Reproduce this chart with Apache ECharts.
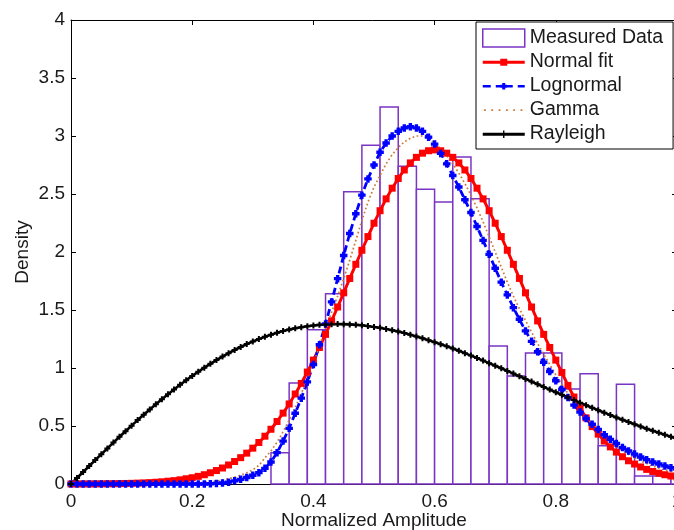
<!DOCTYPE html>
<html><head><meta charset="utf-8">
<script src="https://cdn.jsdelivr.net/npm/echarts@6/dist/echarts.min.js"></script>
<style>html,body{margin:0;padding:0;background:#fff}#c{width:674px;height:530px}</style>
</head><body><div id="c"></div>
<script>
// sample positions of the fitted curves
const xs = [0,0.01,0.02,0.03,0.04,0.05,0.06,0.07,0.08,0.09,
0.10,0.11,0.12,0.13,0.14,0.15,0.16,0.17,0.18,0.19,
0.20,0.21,0.22,0.23,0.24,0.25,0.26,0.27,0.28,0.29,
0.30,0.31,0.32,0.33,0.34,0.35,0.36,0.37,0.38,0.39,
0.40,0.41,0.42,0.43,0.44,0.45,0.46,0.47,0.48,0.49,
0.50,0.51,0.52,0.53,0.54,0.55,0.56,0.57,0.58,0.59,
0.60,0.61,0.62,0.63,0.64,0.65,0.66,0.67,0.68,0.69,
0.70,0.71,0.72,0.73,0.74,0.75,0.76,0.77,0.78,0.79,
0.80,0.81,0.82,0.83,0.84,0.85,0.86,0.87,0.88,0.89,
0.90,0.91,0.92,0.93,0.94,0.95,0.96,0.97,0.98,0.99,1.00];

const normalFit = [0.0004,0.0005,0.0007,0.0009,0.0012,0.0016,0.0021,0.0027,0.0035,0.0046,
0.0058,0.0075,0.0095,0.012,0.015,0.019,0.024,0.029,0.036,0.045,
0.054,0.066,0.080,0.097,0.116,0.138,0.164,0.194,0.227,0.266,
0.309,0.358,0.412,0.472,0.539,0.611,0.690,0.776,0.867,0.965,
1.068,1.177,1.290,1.406,1.526,1.648,1.772,1.894,2.015,2.133,
2.248,2.356,2.458,2.550,2.634,2.707,2.768,2.816,2.852,2.873,
2.880,2.873,2.852,2.816,2.768,2.707,2.634,2.550,2.458,2.356,
2.248,2.133,2.015,1.894,1.772,1.648,1.526,1.406,1.290,1.177,
1.068,0.962,0.850,0.750,0.655,0.570,0.495,0.430,0.370,0.320,
0.275,0.235,0.200,0.172,0.147,0.126,0.108,0.093,0.080,0.069,0.060];

const lognormalFit = [0,0,0,0,0,0,0,0,0,0,
0,0,0,0,0,0,0,0,0,0,
0,0,0,0.002,0.005,0.009,0.016,0.027,0.040,0.056,
0.075,0.098,0.135,0.190,0.270,0.370,0.480,0.610,0.740,0.880,
1.030,1.200,1.380,1.570,1.770,1.970,2.160,2.330,2.490,2.630,
2.750,2.860,2.940,3.000,3.040,3.070,3.080,3.070,3.040,2.990,
2.930,2.850,2.760,2.660,2.560,2.450,2.340,2.220,2.100,1.980,
1.860,1.740,1.630,1.520,1.420,1.320,1.230,1.140,1.050,0.970,
0.890,0.815,0.745,0.680,0.620,0.565,0.515,0.470,0.425,0.385,
0.350,0.315,0.285,0.258,0.233,0.210,0.190,0.172,0.156,0.141,0.128];

const gammaFit = [0,0,0,0,0,0,0,0,0,0,
0,0,0,0,0,0.001,0.001,0.002,0.003,0.005,
0.007,0.010,0.014,0.019,0.026,0.034,0.045,0.059,0.076,0.097,
0.122,0.160,0.225,0.285,0.360,0.450,0.550,0.660,0.780,0.900,
1.040,1.190,1.340,1.480,1.620,1.770,1.930,2.100,2.270,2.430,
2.560,2.660,2.760,2.840,2.900,2.950,2.980,3.000,3.000,2.980,
2.940,2.890,2.830,2.760,2.680,2.590,2.490,2.380,2.260,2.130,
2.000,1.870,1.740,1.620,1.510,1.410,1.310,1.210,1.120,1.030,
0.940,0.860,0.780,0.710,0.640,0.575,0.515,0.460,0.410,0.365,
0.325,0.288,0.255,0.225,0.199,0.176,0.155,0.137,0.121,0.107,0.094];

const rayleighFit = [0,0.052,0.103,0.155,0.206,0.257,0.307,0.357,0.407,0.455,
0.503,0.551,0.597,0.643,0.687,0.731,0.774,0.815,0.855,0.894,
0.932,0.968,1.003,1.036,1.068,1.099,1.128,1.155,1.181,1.206,
1.228,1.249,1.269,1.287,1.303,1.318,1.331,1.342,1.352,1.360,
1.367,1.372,1.376,1.378,1.379,1.378,1.376,1.372,1.368,1.361,
1.354,1.346,1.336,1.325,1.314,1.301,1.287,1.272,1.257,1.240,
1.223,1.205,1.187,1.168,1.148,1.128,1.107,1.086,1.064,1.042,
1.020,0.998,0.975,0.952,0.929,0.906,0.883,0.860,0.837,0.814,
0.791,0.769,0.746,0.724,0.701,0.679,0.658,0.636,0.615,0.594,
0.574,0.554,0.534,0.515,0.496,0.477,0.459,0.441,0.424,0.407,0.390];

// histogram of measured data
const binLeft  = [0.33,0.36,0.39,0.42,0.45,0.48,0.51,0.54,0.57,0.60,0.63,0.66,0.69,0.72,0.75,0.78,0.81,0.84,0.87,0.90,0.93,0.96,0.99];
const binRight = [0.36,0.39,0.42,0.45,0.48,0.51,0.54,0.57,0.60,0.63,0.66,0.69,0.72,0.75,0.78,0.81,0.84,0.87,0.90,0.93,0.96,0.99,1.02];
const binHeight= [0.27,0.87,1.33,1.64,2.52,2.92,3.25,2.74,2.54,2.43,2.82,2.46,1.19,0.93,1.13,1.13,0.82,0.95,0.33,0.86,0.07,0.07,0.06];

const xTicks = {min:0, max:1, interval:0.2};
const yTicks = {min:0, max:4, interval:0.5};

const FONT = 'Liberation Sans';
const TXT = '#1a1a1a';
const PURPLE = '#7b35c4';
const RED = '#ff0000';
const BLUE = '#0000ff';
const BROWN = '#cc7a3a';

const plusBig = 'path://M2.2,0L5.8,0L5.8,2.2L8,2.2L8,5.8L5.8,5.8L5.8,8L2.2,8L2.2,5.8L0,5.8L0,2.2L2.2,2.2Z';
const plusSmall = 'path://M2,0L4,0L4,2L6,2L6,4L4,4L4,6L2,6L2,4L0,4L0,2L2,2Z';

// legend icons in a 42x18 box (corner anchors keep the box)
const anchors = 'M0,0L0.01,0L0,0.01Z M42,18L41.99,18L42,17.99Z ';
const iconNormal = 'path://' + anchors + 'M0,7.75L42,7.75L42,10.75L0,10.75Z M17.5,5.75L24.5,5.75L24.5,12.75L17.5,12.75Z';
const iconLogn = 'path://' + anchors + 'M0,8L8,8L8,10.5L0,10.5Z M13,8L18,8L18,10.5L13,10.5Z M24,8L30,8L30,10.5L24,10.5Z M35,8L42,8L42,10.5L35,10.5Z M19.5,6L22.5,6L22.5,7.8L24.3,7.8L24.3,10.8L22.5,10.8L22.5,12.6L19.5,12.6L19.5,10.8L17.7,10.8L17.7,7.8L19.5,7.8Z';
let dots = '';
[1.3,8.6,15.9,23.2,30.5,37.8].forEach(function(p){ dots += 'M'+p+',8.3L'+(p+1.8)+',8.3L'+(p+1.8)+',10.1L'+p+',10.1Z '; });
const iconGamma = 'path://' + anchors + dots;
const iconRay = 'path://' + anchors + 'M0,7.75L42,7.75L42,10.75L0,10.75Z M20.3,5.5L21.7,5.5L21.7,8.5L24.5,8.5L24.5,10L21.7,10L21.7,13L20.3,13L20.3,10L17.5,10L17.5,8.5L20.3,8.5Z';

function pairs(ys){ return xs.map(function(x,i){ return [x, ys[i]]; }); }

const chart = echarts.init(document.getElementById('c'), null, {renderer:'canvas'});
const axisLineStyle = {show:true, onZero:false, lineStyle:{color:'#000', width:1}};
const tick = {show:true, inside:true, length:5, lineStyle:{color:'#000', width:1}};
const labelStyle = {color:TXT, fontSize:19, fontFamily:FONT};

chart.setOption({
  animation:false,
  backgroundColor:'#fff',
  textStyle:{fontFamily:FONT},
  grid:{left:71, right:-3, top:20, bottom:46, containLabel:false, outerBoundsMode:'none'},
  xAxis:[
    Object.assign({type:'value', position:'bottom', axisLine:axisLineStyle, axisTick:tick,
      axisLabel:Object.assign({margin:8}, labelStyle), splitLine:{show:false},
      name:'Normalized Amplitude', nameLocation:'middle', nameGap:27, nameMoveOverlap:false,
      nameTextStyle:{color:TXT, fontSize:19, fontFamily:FONT}}, xTicks),
    Object.assign({type:'value', position:'top', axisLine:axisLineStyle, axisTick:tick,
      axisLabel:{show:false}, splitLine:{show:false}}, xTicks)
  ],
  yAxis:[
    Object.assign({type:'value', position:'left', axisLine:axisLineStyle, axisTick:tick,
      axisLabel:Object.assign({margin:6}, labelStyle), splitLine:{show:false},
      name:'Density', nameLocation:'middle', nameGap:39, nameMoveOverlap:false,
      nameTextStyle:{color:TXT, fontSize:19, fontFamily:FONT}}, yTicks),
    Object.assign({type:'value', position:'right', axisLine:axisLineStyle, axisTick:tick,
      axisLabel:{show:false}, splitLine:{show:false}}, yTicks)
  ],
  legend:{
    orient:'vertical', left:476, top:22, itemWidth:42, itemHeight:18, itemGap:4,
    padding:[6,10,5,6], borderColor:'#000', borderWidth:1, backgroundColor:'#fff',
    selectedMode:false, symbolKeepAspect:true,
    itemStyle:{borderWidth:0},
    textStyle:{color:TXT, fontSize:19.5, fontFamily:FONT},
    data:[
      {name:'Measured Data', icon:'rect', itemStyle:{color:'#fff', borderColor:PURPLE, borderWidth:1.5}},
      {name:'Normal fit', icon:iconNormal},
      {name:'Lognormal', icon:iconLogn},
      {name:'Gamma', icon:iconGamma},
      {name:'Rayleigh', icon:iconRay}
    ]
  },
  series:[
    {
      name:'Measured Data', type:'custom', silent:true,
      itemStyle:{color:'#fff', borderColor:PURPLE},
      encode:{x:[0,1], y:2},
      data: binLeft.map(function(l,i){ return [l, binRight[i], binHeight[i]]; }),
      renderItem:function(params, api){
        var p0 = api.coord([api.value(0), api.value(2)]);
        var p1 = api.coord([api.value(1), 0]);
        return {type:'rect', shape:{x:p0[0], y:p0[1], width:p1[0]-p0[0], height:p1[1]-p0[1]},
          style:{fill:'#fff', stroke:PURPLE, lineWidth:1.5}};
      }
    },
    {
      name:'Normal fit', type:'line', silent:true, data:pairs(normalFit),
      symbol:'rect', symbolSize:7, showSymbol:true,
      lineStyle:{color:RED, width:3}, itemStyle:{color:RED, borderWidth:0}
    },
    {
      name:'Lognormal', type:'line', silent:true, data:pairs(lognormalFit),
      symbol:plusBig, symbolSize:7.5, showSymbol:true,
      lineStyle:{color:BLUE, width:2.8, type:[7,4]}, itemStyle:{color:BLUE, borderWidth:0}
    },
    {
      name:'Gamma', type:'line', silent:true, data:pairs(gammaFit),
      symbol:'none', showSymbol:false,
      lineStyle:{color:BROWN, width:1.7, type:[1.7,2.5]}, itemStyle:{color:BROWN, borderWidth:0}
    },
    {
      name:'Rayleigh', type:'line', silent:true, data:pairs(rayleighFit),
      symbol:plusSmall, symbolSize:6, showSymbol:true,
      lineStyle:{color:'#000', width:2.6}, itemStyle:{color:'#000', borderWidth:0}
    }
  ]
});
</script>
</body></html>
